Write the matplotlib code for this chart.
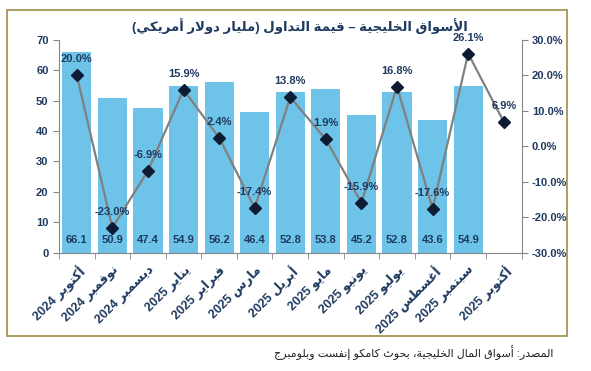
import numpy as np
import matplotlib
matplotlib.use('Agg')
import matplotlib.pyplot as plt
from matplotlib.patches import Rectangle

plt.rcParams['font.family'] = ['Liberation Sans', 'DejaVu Sans']

# data
months = ['أكتوبر', 'نوفمبر', 'ديسمبر', 'يناير', 'فبراير', 'مارس', 'أبريل',
          'مايو', 'يونيو', 'يوليو', 'أغسطس', 'سبتمبر', 'أكتوبر']
years = ['2024', '2024', '2024', '2025', '2025', '2025', '2025',
         '2025', '2025', '2025', '2025', '2025', '2025']
values = [66.1, 50.9, 47.4, 54.9, 56.2, 46.4, 52.8, 53.8, 45.2, 52.8, 43.6, 54.9]
changes = [20.0, -23.0, -6.9, 15.9, 2.4, -17.4, 13.8, 1.9, -15.9, 16.8, -17.6, 26.1, 6.9]

title = 'الأسواق الخليجية – قيمة التداول (مليار دولار أمريكي)'
source = 'المصدر: أسواق المال الخليجية، بحوث كامكو إنفست وبلومبرج'

bar_color = '#6DC3E8'
text_color = '#1F3A5F'
marker_color = '#0D1B33'
line_color = '#808080'
axis_color = '#868686'
frame_color = '#A08C46'


# matplotlib has no arabic shaping, so map letters to presentation forms by hand
letters = [chr(c) for c in list(range(0x621, 0x63B)) + list(range(0x641, 0x64B))]
nforms = [1, 2, 2, 2, 2, 4, 2, 4, 2, 4, 4, 4, 4, 4, 2, 2, 2, 2, 4, 4,
          4, 4, 4, 4, 4, 4, 4, 4, 4, 4, 4, 4, 4, 2, 2, 4]
forms = {}
code = 0xFE80
for ch, n in zip(letters, nforms):
    forms[ch] = [chr(code + k) for k in range(n)]
    code += n
lam_alef = {'\u0622': 0xFEF5, '\u0623': 0xFEF7, '\u0625': 0xFEF9, '\u0627': 0xFEFB}


def shape(s):
    out = []
    i = 0
    while i < len(s):
        c = s[i]
        if c not in forms:
            out.append({'(': ')', ')': '('}.get(c, c))
            i += 1
            continue
        prev = s[i - 1] if i > 0 else ''
        conn_prev = prev in forms and len(forms[prev]) == 4
        if c == '\u0644' and i + 1 < len(s) and s[i + 1] in lam_alef:
            out.append(chr(lam_alef[s[i + 1]] + (1 if conn_prev else 0)))
            i += 2
            continue
        nxt = s[i + 1] if i + 1 < len(s) else ''
        f = forms[c]
        conn_next = len(f) == 4 and nxt in forms
        if len(f) == 4:
            idx = [[0, 2], [1, 3]][conn_prev][conn_next]
        elif len(f) == 2:
            idx = 1 if conn_prev else 0
        else:
            idx = 0
        out.append(f[idx])
        i += 1
    return ''.join(out)[::-1]


fig = plt.figure(figsize=(5.91, 3.71), dpi=100)
fig.patches.append(Rectangle((7 / 591, 1 - 336 / 371), 560 / 591, 326 / 371,
                             transform=fig.transFigure, fill=False,
                             edgecolor=frame_color, lw=1.2))

ax = fig.add_axes([59 / 591, 1 - 252.7 / 371, 462.5 / 591, 213 / 371])
x = np.arange(len(months))
ax.bar(x[:len(values)], values, width=0.82, color=bar_color, zorder=1)
ax.set_xlim(-0.5, len(months) - 0.5)
ax.set_ylim(0, 70)
ax.set_yticks(range(0, 71, 10))

for i, v in enumerate(values):
    ax.annotate('%.1f' % v, (i, 0), xytext=(0, 9), textcoords='offset points',
                ha='center', va='center', fontsize=8, fontweight='bold', color=text_color)

ax.set_xticks(x)
ax.set_xticklabels([y + ' ' + shape(m) for m, y in zip(months, years)],
                   rotation=45, ha='right', rotation_mode='anchor',
                   fontsize=9, fontweight='bold', color=text_color)
ax.set_xticks(np.arange(-0.5, len(months)), minor=True)
ax.tick_params(axis='x', which='major', length=0, pad=8)
ax.tick_params(axis='x', which='minor', length=4, color=axis_color)
ax.tick_params(axis='y', length=4, color=axis_color, labelsize=8, labelcolor=text_color)
for lab in ax.get_yticklabels():
    lab.set_fontweight('bold')

ax2 = ax.twinx()
ax2.plot(x, changes, color=line_color, lw=1.6, marker='D', markersize=6,
         markerfacecolor=marker_color, markeredgecolor=marker_color, zorder=3)
ax2.set_ylim(-30, 30)
ax2.set_yticks(range(-30, 31, 10))
ax2.set_yticklabels(['%.1f%%' % t for t in range(-30, 31, 10)])
ax2.tick_params(axis='y', length=4, color=axis_color, labelsize=8, labelcolor=text_color)
for lab in ax2.get_yticklabels():
    lab.set_fontweight('bold')

for i, c in enumerate(changes):
    ax2.annotate('%.1f%%' % c, (i, c), xytext=(0, 11.5), textcoords='offset points',
                 ha='center', va='center', fontsize=8, fontweight='bold', color=text_color)

for a in (ax, ax2):
    a.spines['top'].set_visible(False)
    for s in ('left', 'right', 'bottom'):
        a.spines[s].set_color(axis_color)
ax.spines['right'].set_visible(False)
ax2.spines['left'].set_visible(False)
ax2.spines['bottom'].set_visible(False)

fig.text(300 / 591, 1 - 26 / 371, shape(title), ha='center', va='center',
         fontsize=9.5, fontweight='bold', color=text_color)
fig.text(553 / 591, 1 - 353 / 371, shape(source), ha='right', va='center',
         fontsize=8, color='#222222')

fig.savefig('out.png', dpi=100)
